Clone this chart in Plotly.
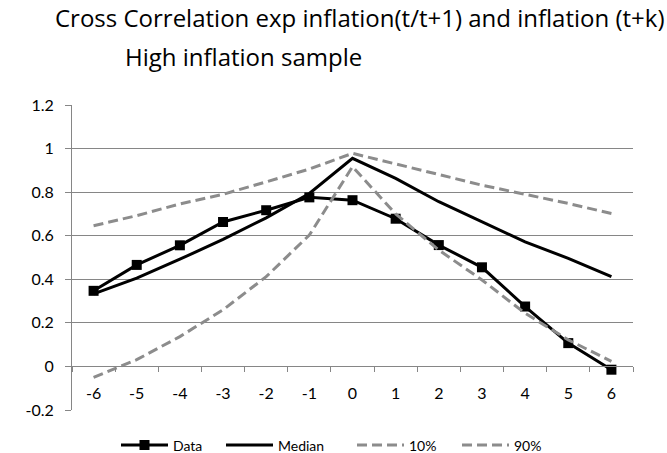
import plotly.graph_objects as go

# Lags k of the cross correlation
lags = ["-6", "-5", "-4", "-3", "-2", "-1", "0", "1", "2", "3", "4", "5", "6"]

# Cross correlation: observed data, simulated median and 10% / 90% bands
data_corr = [0.347, 0.466, 0.556, 0.663, 0.717, 0.776, 0.763,
             0.678, 0.557, 0.455, 0.275, 0.107, -0.015]
median_corr = [0.333, 0.405, 0.492, 0.583, 0.682, 0.794, 0.955,
               0.863, 0.756, 0.664, 0.572, 0.496, 0.412]
p10_corr = [-0.050, 0.031, 0.137, 0.260, 0.412, 0.603, 0.917,
            0.700, 0.534, 0.397, 0.244, 0.122, 0.023]
p90_corr = [0.646, 0.692, 0.746, 0.790, 0.847, 0.906, 0.978,
            0.931, 0.881, 0.832, 0.791, 0.748, 0.702]

y_ticks = [-0.2, 0, 0.2, 0.4, 0.6, 0.8, 1, 1.2]
y_tick_labels = ["-0.2", "0", "0.2", "0.4", "0.6", "0.8", "1", "1.2"]

title_line1 = "Cross Correlation exp inflation(t/t+1) and inflation (t+k)"
title_line2 = "High inflation sample"

FONT = "Lato"
TITLE_FONT = "Open Sans"
GRID = "#868686"
BAND = "#8c8c8c"

W, H = 667, 453
ML, MR, MT, MB = 72, 34, 105, 43
PW, PH = W - ML - MR, H - MT - MB


def px_x(px):
    return (px - ML) / PW


def px_y(py):
    return (H - MB - py) / PH


fig = go.Figure()

fig.add_trace(go.Scatter(
    x=lags, y=data_corr, name="Data", mode="lines+markers",
    line=dict(color="black", width=3),
    marker=dict(symbol="square", size=10, color="black"),
    legend="legend",
))
fig.add_trace(go.Scatter(
    x=lags, y=median_corr, name="Median", mode="lines",
    line=dict(color="black", width=3),
    legend="legend2",
))
fig.add_trace(go.Scatter(
    x=lags, y=p10_corr, name="10%", mode="lines",
    line=dict(color=BAND, width=3, dash="10px,5px"),
    legend="legend3",
))
fig.add_trace(go.Scatter(
    x=lags, y=p90_corr, name="90%", mode="lines",
    line=dict(color=BAND, width=3, dash="10px,5px"),
    legend="legend4",
))

y_min, y_max = -0.2, 1.2


def legend_box(start_px):
    # one single-entry legend per series, laid out along the bottom
    return dict(
        orientation="h", x=px_x(start_px), y=px_y(445.5),
        xanchor="left", yanchor="middle",
        font=dict(family=FONT, size=14, color="black"),
        itemwidth=47, bgcolor="rgba(0,0,0,0)",
    )


fig.update_layout(
    width=W, height=H,
    margin=dict(l=ML, r=MR, t=MT, b=MB, pad=0, autoexpand=False),
    paper_bgcolor="white", plot_bgcolor="white",
    font=dict(family=FONT, color="black", size=16),
    showlegend=True,
    legend=legend_box(116),
    legend2=legend_box(221),
    legend3=legend_box(352),
    legend4=legend_box(457),
    xaxis=dict(
        type="category", categoryorder="array", categoryarray=lags,
        range=[-0.5, len(lags) - 0.5],
        anchor="free", position=(0 - y_min) / (y_max - y_min),
        showline=True, linecolor=GRID, linewidth=1,
        showgrid=False, zeroline=False,
        ticks="outside", tickson="boundaries", ticklen=5,
        tickcolor=GRID, tickwidth=1,
        ticklabelstandoff=12,
        tickfont=dict(family=FONT, size=16, color="black"),
    ),
    yaxis=dict(
        range=[y_min, y_max],
        tickmode="array", tickvals=y_ticks, ticktext=y_tick_labels,
        showgrid=True, gridcolor=GRID, gridwidth=1,
        zeroline=False,
        showline=True, linecolor=GRID, linewidth=1,
        ticks="outside", ticklen=6, tickcolor=GRID, tickwidth=1,
        ticklabelstandoff=8,
        tickfont=dict(family=FONT, size=16, color="black"),
    ),
    annotations=[
        dict(text=title_line1, xref="paper", yref="paper",
             x=px_x(359.5), y=px_y(17), xanchor="center", yanchor="middle",
             showarrow=False,
             font=dict(family=TITLE_FONT, size=24, color="black")),
        dict(text=title_line2, xref="paper", yref="paper",
             x=px_x(123), y=px_y(57), xanchor="left", yanchor="middle",
             showarrow=False,
             font=dict(family=TITLE_FONT, size=24, color="black")),
    ],
)

fig.write_html("out.html")
